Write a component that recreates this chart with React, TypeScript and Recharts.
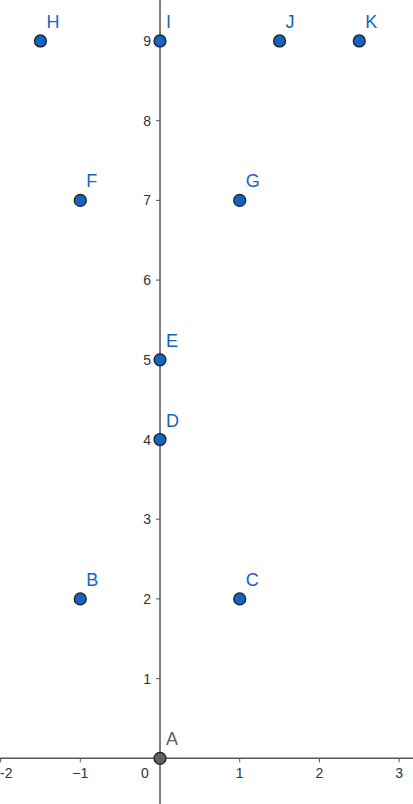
import { FC } from 'react';
import { ScatterChart, Scatter, XAxis, YAxis, ReferenceLine } from 'recharts';

// Named points (x, y)
const pointNames = ['A', 'B', 'C', 'D', 'E', 'F', 'G', 'H', 'I', 'J', 'K'];
const pointX = [0, -1, 1, 0, 0, -1, 1, -1.5, 0, 1.5, 2.5];
const pointY = [0, 2, 2, 4, 5, 7, 7, 9, 9, 9, 9];

// Axis ticks
const xTickValues = [-2, -1, 0, 1, 2, 3];
const xTickLabels = ['-2', '−1', '0', '1', '2', '3'];
const yTickValues = [1, 2, 3, 4, 5, 6, 7, 8, 9];
const yTickLabels = ['1', '2', '3', '4', '5', '6', '7', '8', '9'];

// Visible window of the graphics view
const X_DOMAIN: [number, number] = [-2.0075, 3.174];
const Y_DOMAIN: [number, number] = [-0.573, 9.514];

const WIDTH = 413;
const HEIGHT = 804;

const BLUE = '#1565c0';
const AXIS = '#555555';
const FONT = '"Liberation Sans", Arial, sans-serif';

const points = pointNames.map((name, i) => ({ name, x: pointX[i], y: pointY[i] }));
const xTicks = xTickValues.map((x, i) => ({ x, y: 0, label: xTickLabels[i] }));
const yTicks = yTickValues.map((y, i) => ({ x: 0, y, label: yTickLabels[i] }));

const PointShape = (props: any) => {
  const { cx, cy, payload } = props;
  const isOrigin = payload.name === 'A';
  const color = isOrigin ? '#606060' : BLUE;
  return (
    <g>
      <circle cx={cx} cy={cy} r={6} fill={color} stroke="#1a1a1a" strokeWidth={1.2} />
      <text x={cx + 6} y={cy - 13} fill={color} fontSize={18} fontFamily={FONT}>
        {payload.name}
      </text>
    </g>
  );
};

const XTickShape = (props: any) => {
  const { cx, cy, payload } = props;
  if (payload.x === 0) {
    return (
      <text x={cx - 15} y={cy + 20} textAnchor="middle" fill="#333" fontSize={14} fontFamily={FONT}>
        {payload.label}
      </text>
    );
  }
  // keep labels at the left edge inside the view, like GeoGebra does
  const atEdge = cx < 10;
  return (
    <g>
      <line x1={cx} y1={cy} x2={cx} y2={cy + 4} stroke={AXIS} strokeWidth={1} />
      <text
        x={atEdge ? 0 : cx}
        y={cy + 20}
        textAnchor={atEdge ? 'start' : 'middle'}
        fill="#333"
        fontSize={14}
        fontFamily={FONT}
      >
        {payload.label}
      </text>
    </g>
  );
};

const YTickShape = (props: any) => {
  const { cx, cy, payload } = props;
  return (
    <g>
      <line x1={cx - 4} y1={cy} x2={cx} y2={cy} stroke={AXIS} strokeWidth={1} />
      <text x={cx - 9} y={cy + 5} textAnchor="end" fill="#333" fontSize={14} fontFamily={FONT}>
        {payload.label}
      </text>
    </g>
  );
};

const App: FC = () => {
  return (
    <div style={{ position: 'absolute', left: 0, top: 0, width: WIDTH, height: HEIGHT, background: '#fff' }}>
      <ScatterChart width={WIDTH} height={HEIGHT} margin={{ top: 0, right: 0, bottom: 0, left: 0 }}>
        <XAxis type="number" dataKey="x" domain={X_DOMAIN} allowDataOverflow hide />
        <YAxis type="number" dataKey="y" domain={Y_DOMAIN} allowDataOverflow hide />
        <ReferenceLine x={0} stroke={AXIS} strokeWidth={1.5} />
        <ReferenceLine y={0} stroke={AXIS} strokeWidth={1.5} />
        <Scatter data={xTicks} shape={XTickShape} isAnimationActive={false} />
        <Scatter data={yTicks} shape={YTickShape} isAnimationActive={false} />
        <Scatter data={points} shape={PointShape} isAnimationActive={false} />
      </ScatterChart>
    </div>
  );
};

export default App;
